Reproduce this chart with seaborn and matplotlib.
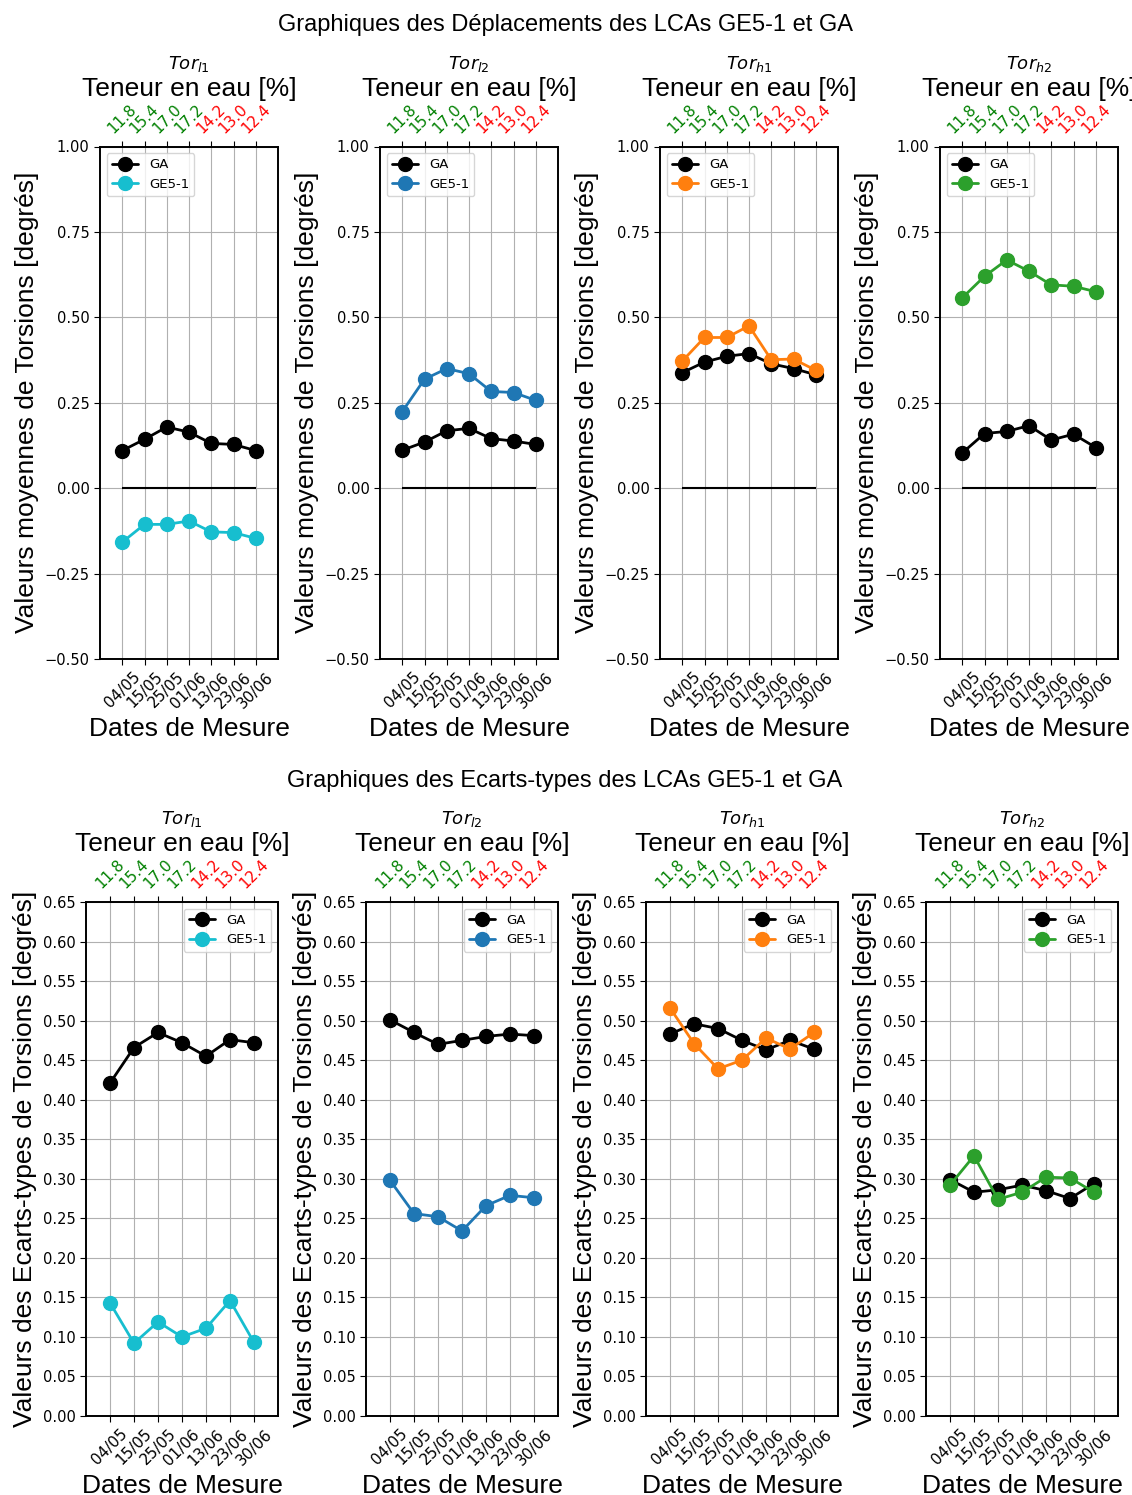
import numpy as np
import pandas as pd
import matplotlib
matplotlib.use("Agg")
import matplotlib.pyplot as plt
import seaborn as sns

# --- donnees ---
dates = ["04/05", "15/05", "25/05", "01/06", "13/06", "23/06", "30/06"]
teneur = ["11.8", "15.4", "17.0", "17.2", "14.2", "13.0", "12.4"]
capteurs = ["$Tor_{l1}$", "$Tor_{l2}$", "$Tor_{h1}$", "$Tor_{h2}$"]

# moyennes (degres)
moy_ga_l1 = [0.110, 0.143, 0.179, 0.164, 0.131, 0.128, 0.110]
moy_ge5_l1 = [-0.158, -0.106, -0.106, -0.096, -0.128, -0.130, -0.147]
moy_ga_l2 = [0.111, 0.135, 0.168, 0.175, 0.145, 0.138, 0.128]
moy_ge5_l2 = [0.224, 0.319, 0.350, 0.335, 0.283, 0.280, 0.257]
moy_ga_h1 = [0.338, 0.369, 0.386, 0.394, 0.364, 0.350, 0.332]
moy_ge5_h1 = [0.372, 0.441, 0.441, 0.475, 0.376, 0.378, 0.345]
moy_ga_h2 = [0.103, 0.160, 0.166, 0.183, 0.141, 0.158, 0.119]
moy_ge5_h2 = [0.557, 0.620, 0.668, 0.635, 0.595, 0.591, 0.575]

# ecarts-types (degres)
std_ga_l1 = [0.421, 0.466, 0.485, 0.472, 0.455, 0.476, 0.472]
std_ge5_l1 = [0.143, 0.092, 0.119, 0.100, 0.111, 0.146, 0.093]
std_ga_l2 = [0.501, 0.485, 0.470, 0.475, 0.480, 0.483, 0.481]
std_ge5_l2 = [0.298, 0.256, 0.252, 0.234, 0.266, 0.279, 0.276]
std_ga_h1 = [0.483, 0.496, 0.490, 0.475, 0.463, 0.475, 0.464]
std_ge5_h1 = [0.516, 0.471, 0.439, 0.450, 0.478, 0.464, 0.485]
std_ga_h2 = [0.299, 0.283, 0.286, 0.292, 0.285, 0.275, 0.294]
std_ge5_h2 = [0.292, 0.329, 0.274, 0.283, 0.302, 0.301, 0.283]

moy_ga = [moy_ga_l1, moy_ga_l2, moy_ga_h1, moy_ga_h2]
moy_ge5 = [moy_ge5_l1, moy_ge5_l2, moy_ge5_h1, moy_ge5_h2]
std_ga = [std_ga_l1, std_ga_l2, std_ga_h1, std_ga_h2]
std_ge5 = [std_ge5_l1, std_ge5_l2, std_ge5_h1, std_ge5_h2]

couleurs = ["#17becf", "#1f77b4", "#ff7f0e", "#2ca02c"]
couleurs_teneur = ["green"] * 4 + ["red"] * 3

sns.set_style("ticks", {"axes.grid": True, "grid.color": "#b0b0b0",
                        "axes.edgecolor": "black", "xtick.color": "black",
                        "ytick.color": "black", "text.color": "black",
                        "axes.labelcolor": "black"})
plt.rcParams["font.family"] = ["DejaVu Sans"]
plt.rcParams["axes.linewidth"] = 1.2
LAB = ["Liberation Sans", "DejaVu Sans"]

fig = plt.figure(figsize=(11.32, 14.95), dpi=100)
W, H = 1132, 1495
x = np.arange(1, 8)


def ligne(ga, ge5, left, top_px, w_px, h_px, ylim, yticks, ylabel, loc, zero, titre, col):
    ax = fig.add_axes([left / W, 1 - (top_px + h_px) / H, w_px / W, h_px / H])
    df = pd.DataFrame({"x": np.concatenate([x, x]),
                       "val": list(ga) + list(ge5),
                       "groupe": ["GA"] * 7 + ["GE5-1"] * 7})
    sns.lineplot(data=df, x="x", y="val", hue="groupe",
                 palette={"GA": "black", "GE5-1": col}, marker="o",
                 markersize=10, markeredgewidth=1, linewidth=2, ax=ax)
    for l in ax.lines:
        l.set_markeredgecolor(l.get_color())
    if zero:
        ax.hlines(0, 1, 7, color="black", linewidth=1.5)
    ax.set_xlim(0, 8)
    ax.set_ylim(*ylim)
    ax.set_yticks(yticks)
    ax.set_yticklabels([f"{t:.2f}".replace("-", "\u2212") for t in yticks], fontsize=10.5)
    ax.set_xticks(x)
    ax.set_xticklabels(dates, rotation=45, fontsize=11)
    ax.set_xlabel("Dates de Mesure", fontsize=19, family=LAB)
    ax.set_ylabel(ylabel, fontsize=19, family=LAB)
    ax.grid(True, color="#b0b0b0", linewidth=0.8)
    ax.tick_params(direction="out", length=4)
    leg = ax.legend(loc=loc, fontsize=9.5)
    for h in leg.legend_handles:
        h.set_markeredgecolor(h.get_color())

    ax2 = ax.twiny()
    ax2.set_xlim(ax.get_xlim())
    ax2.set_xticks(x)
    ax2.set_xticklabels(teneur, rotation=45, fontsize=11)
    for lab, c in zip(ax2.get_xticklabels(), couleurs_teneur):
        lab.set_color(c)
    ax2.grid(False)
    ax2.set_xlabel("Teneur en eau [%]", fontsize=19, family=LAB)
    ax2.set_title(titre, fontsize=13)
    ax2.tick_params(direction="out", length=4)
    return ax


for i in range(4):
    ligne(moy_ga[i], moy_ge5[i], 100 + 280 * i, 146.5, 178, 512.5,
          (-0.5, 1.0), np.arange(-0.5, 1.01, 0.25),
          "Valeurs moyennes de Torsions [degrés]", "upper left", True,
          capteurs[i], couleurs[i])
    ligne(std_ga[i], std_ge5[i], 86 + 280 * i, 902, 192, 514,
          (0, 0.65), np.arange(0, 0.651, 0.05),
          "Valeurs des Ecarts-types de Torsions [degrés]", "upper right", False,
          capteurs[i], couleurs[i])

fig.text(565 / W, 1 - 25 / H, "Graphiques des Déplacements des LCAs GE5-1 et GA",
         ha="center", va="center", fontsize=17, family=LAB)
fig.text(565 / W, 1 - 781 / H, "Graphiques des Ecarts-types des LCAs GE5-1 et GA",
         ha="center", va="center", fontsize=17, family=LAB)

fig.savefig("out.png", dpi=100)
